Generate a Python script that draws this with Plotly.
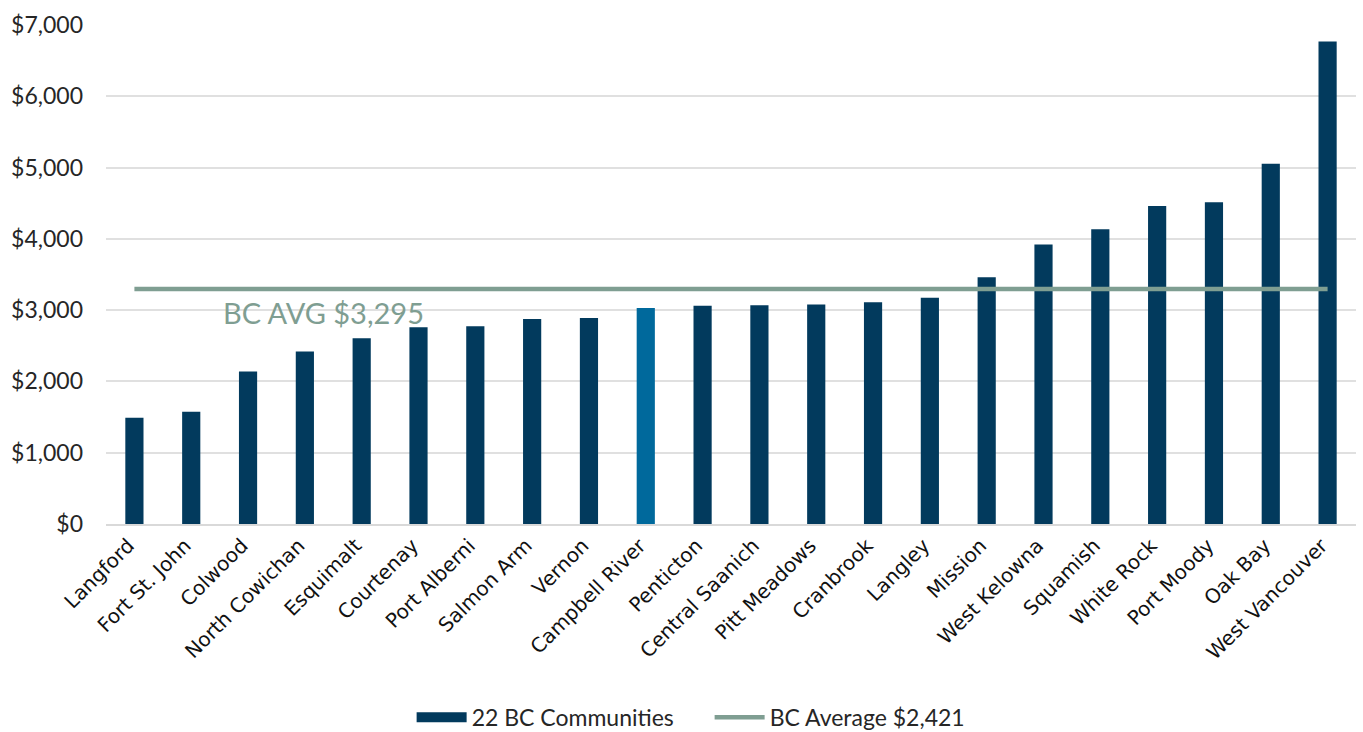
import plotly.graph_objects as go

# Communities ordered by value
communities = [
    "Langford", "Fort St. John", "Colwood", "North Cowichan", "Esquimalt",
    "Courtenay", "Port Alberni", "Salmon Arm", "Vernon", "Campbell River",
    "Penticton", "Central Saanich", "Pitt Meadows", "Cranbrook", "Langley",
    "Mission", "West Kelowna", "Squamish", "White Rock", "Port Moody",
    "Oak Bay", "West Vancouver",
]
values = [
    1490, 1575, 2140, 2420, 2605,
    2760, 2775, 2875, 2890, 3030,
    3060, 3070, 3080, 3110, 3175,
    3460, 3920, 4135, 4460, 4515,
    5055, 6770,
]
highlight = "Campbell River"
group_avg = 3295
bc_average = 2421

y_ticks = [0, 1000, 2000, 3000, 4000, 5000, 6000, 7000]
y_tick_labels = [f"${v:,}" for v in y_ticks]

NAVY = "#023a5d"
HIGHLIGHT = "#00699c"
SAGE = "#7f9e92"
TEXT = "#262626"
GRID = "#d9d9d9"

bar_colors = [HIGHLIGHT if c == highlight else NAVY for c in communities]

fig = go.Figure()
fig.add_trace(go.Bar(
    x=communities,
    y=values,
    marker=dict(color=bar_colors, line=dict(width=0)),
    name="22 BC Communities",
    showlegend=False,
    legendgroup="bars",
))
# Wide legend swatch for the bar series
fig.add_trace(go.Scatter(
    x=[None], y=[None],
    mode="lines",
    line=dict(color=NAVY, width=12),
    name="22 BC Communities",
    legendgroup="bars",
))
fig.add_trace(go.Scatter(
    x=[communities[0], communities[-1]],
    y=[group_avg, group_avg],
    mode="lines",
    line=dict(color=SAGE, width=4.5),
    name=f"BC Average ${bc_average:,}",
))

fig.add_annotation(
    x=3.32, y=2960, xref="x", yref="y",
    text=f"BC AVG ${group_avg:,}",
    showarrow=False,
    font=dict(family="Lato", size=29, color=SAGE),
    xanchor="center", yanchor="middle",
)

fig.update_layout(
    width=1363, height=732,
    margin=dict(l=106, r=7, t=25, b=208),
    plot_bgcolor="white",
    paper_bgcolor="white",
    bargap=0.68,
    font=dict(family="Lato", color=TEXT),
    legend=dict(
        orientation="h",
        xref="container", yref="container",
        x=0.302, y=0.02, xanchor="left", yanchor="middle",
        font=dict(family="Lato", size=23, color=TEXT),
        itemwidth=50,
        entrywidth=233,
        traceorder="normal",
    ),
    showlegend=True,
)
fig.update_xaxes(
    tickangle=-45,
    tickfont=dict(family="DejaVu Sans", size=20, color="#111111"),
    ticklabelshift=-6,
    showgrid=False,
    showline=True, linecolor=GRID, linewidth=2,
    ticks="",
)
fig.update_yaxes(
    range=[0, 7000],
    tickvals=y_ticks,
    ticktext=y_tick_labels,
    tickfont=dict(family="Lato", size=23, color=TEXT),
    ticklabelstandoff=22,
    showgrid=True, gridcolor="#e0e0e0", gridwidth=1.5,
    zeroline=False,
    ticks="", ticklen=0,
)

fig.write_html("out.html")
